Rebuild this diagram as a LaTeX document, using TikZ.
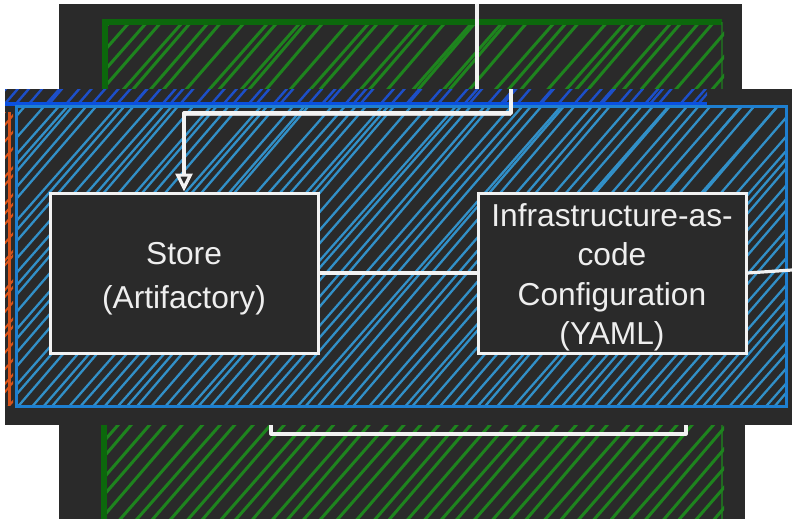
\documentclass[tikz,border=0pt]{standalone}
\usepackage{fontspec}
\setmainfont{Liberation Sans}
\usetikzlibrary{arrows.meta}
\definecolor{panel}{HTML}{2A2A2A}
\definecolor{grnborder}{HTML}{0C680C}
\definecolor{grnhatch}{HTML}{1E841E}
\definecolor{dkblue}{HTML}{0A50E0}
\definecolor{dkbluehatch}{HTML}{1D4FC9}
\definecolor{ltblue}{HTML}{1E7FD0}
\definecolor{ltbluehatch}{HTML}{3290C8}
\definecolor{orangeline}{HTML}{D9541A}
\definecolor{wline}{HTML}{F2F2F2}
\definecolor{txt}{HTML}{EEEEEE}
\pgfmathsetseed{7}
% #1 x1, #2 y1, #3 x2, #4 y2, #5 colour, #6 spacing, #7 width
\newcommand\myhatch[7]{%
  \begin{scope}
    \clip (#1,#2) rectangle (#3,#4);
    \pgfmathtruncatemacro\hatchsecond{-520+#6}%
    \foreach \i in {-520,\hatchsecond,...,800}{%
      \pgfmathsetmacro\hja{\i+2*rand}%
      \pgfmathsetmacro\hjb{460+8*rand}%
      \draw[#5, line width=#7] (\hja,530) -- ++(\hjb,-530);
    }
  \end{scope}}
\begin{document}
\begin{tikzpicture}[x=1pt,y=-1pt,
  wire/.style={wline, line width=3.2pt, line join=round},
  boxnode/.style={draw=wline, line width=3pt, fill=panel,
    minimum width=268pt, minimum height=160pt, inner sep=0pt},
  boxtext/.style={text=txt, align=center, inner sep=0pt}]
\useasboundingbox (0,0) rectangle (792,519);
\fill[white] (0,0) rectangle (792,519);

% top panel
\fill[panel] (59,4) rectangle (742,89);
\myhatch{105}{22}{724}{89}{grnhatch}{17}{3pt}
\draw[grnborder, line width=6pt] (105,89) -- (105,22) -- (722,22);
\draw[grnhatch, line width=2pt, opacity=0.6] (722,22) -- (722,89);

% bottom panel
\fill[panel] (59,425) rectangle (745,519);
\myhatch{102}{425}{724}{519}{grnhatch}{17}{3pt}
\draw[grnborder, line width=6pt] (104,425) -- (104,519);
\draw[grnhatch, line width=2.5pt, opacity=0.7] (722,425) -- (722,519);

% middle panel
\fill[panel] (5,89) rectangle (792,425);
\myhatch{5}{89}{707}{104}{dkbluehatch}{12}{2.4pt}
\myhatch{16}{106}{786}{406}{ltbluehatch}{12}{2.3pt}
\draw[dkblue, line width=3.4pt] (5,104) -- (707,104);
\draw[ltblue, line width=3pt] (16,106) rectangle (786,406);
\myhatch{5}{112}{13}{405}{orangeline}{12}{2pt}
\draw[orangeline, line width=3pt] (9,112) -- (9,405);

% nodes
\node[boxnode] (store) at (184,273) {};
\node[boxnode] (iac) at (612,273) {};
\node[boxtext, font=\fontsize{31.7}{44}\selectfont] (storetext) at ([yshift=-6pt]store.center) {Store\\(Artifactory)};
\node[boxtext, font=\fontsize{31.7}{39.5}\selectfont] (iactext) at ([yshift=-4.5pt]iac.center) {Infrastructure-as-\\code\\Configuration\\(YAML)};

% connector coordinates
\coordinate (t0) at (477,4);
\coordinate (t1) at (477,89);
\coordinate (a0) at (511,89);
\coordinate (a1) at (511,113);
\coordinate (r1) at (792,270);
\coordinate (b0) at (271,425);
\coordinate (b1) at (686,425);

% connectors
\draw[wire] (t0) -- (t1);
\draw[wire, -{Triangle[open,length=18pt,width=17pt]}] (a0) -- (a1) -| (store.north);
\draw[wire, line width=1.4pt, opacity=0.8] ([yshift=-2.5pt]a1) -- ++(-328,0);
\draw[wire] (store.east) -- (iac.west);
\draw[wire] (iac.east) -- (r1);
\draw[wire] (b0) -- ++(0,9) -| (b1);
\end{tikzpicture}
\end{document}
